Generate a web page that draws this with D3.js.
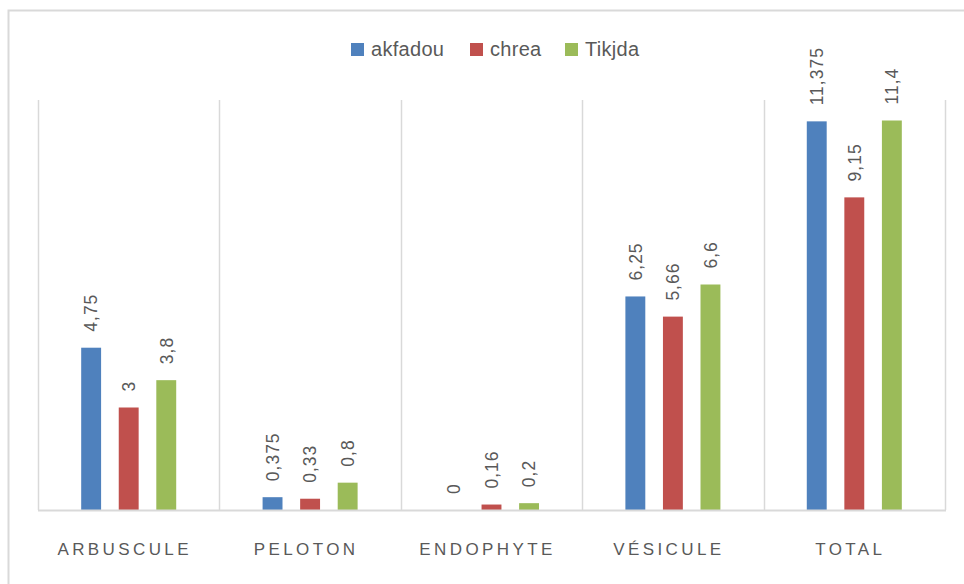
<!DOCTYPE html>
<html>
<head>
<meta charset="utf-8">
<script src="https://cdn.jsdelivr.net/npm/d3@7"></script>
<style>
  body { margin: 0; background: #fff; }
  text { font-family: "Liberation Sans", Arial, sans-serif; fill: #595959; }
</style>
</head>
<body>
<svg id="chart"></svg>
<script>
// Data
const categories = ["ARBUSCULE", "PELOTON", "ENDOPHYTE", "VÉSICULE", "TOTAL"];
const series = ["akfadou", "chrea", "Tikjda"];
const akfadou = [4.75, 0.375, 0, 6.25, 11.375];
const chrea = [3, 0.33, 0.16, 5.66, 9.15];
const tikjda = [3.8, 0.8, 0.2, 6.6, 11.4];
const values = [akfadou, chrea, tikjda];
const colors = ["#4f81bd", "#c0504d", "#9bbb59"];

const width = 964;
const height = 584;
const plot = { left: 38, right: 945, top: 100, bottom: 510 };

const svg = d3.select("#chart").attr("width", width).attr("height", height);

// outer frame (runs off the right and bottom edges)
svg.append("rect")
  .attr("x", 8.5).attr("y", 10.5)
  .attr("width", 1000).attr("height", 1000)
  .attr("fill", "none").attr("stroke", "#d9d9d9").attr("stroke-width", 2);

// scales
const x0 = d3.scaleBand().domain(categories).range([plot.left, plot.right]);
const x1 = d3.scaleBand().domain(series).range([0, x0.bandwidth()])
  .paddingInner(0.47).paddingOuter(1.15);
const y = d3.scaleLinear().domain([0, 12]).range([plot.bottom, plot.top]);

// vertical separators between categories
const seps = categories.map(c => x0(c)).concat([plot.right]);
svg.append("g").selectAll("line").data(seps).join("line")
  .attr("x1", d => Math.round(d) + 0.5).attr("x2", d => Math.round(d) + 0.5)
  .attr("y1", y(12)).attr("y2", plot.bottom)
  .attr("stroke", "#d9d9d9").attr("stroke-width", 1.5);

// bars
const groups = svg.append("g").selectAll("g").data(categories).join("g")
  .attr("transform", c => `translate(${x0(c)},0)`);

const rows = (c, i) => series.map((s, k) => ({ s, k, v: values[k][i] }));

groups.selectAll("rect").data(rows).join("rect")
  .attr("x", d => x1(d.s))
  .attr("width", x1.bandwidth())
  .attr("y", d => y(d.v))
  .attr("height", d => y(0) - y(d.v))
  .attr("fill", d => colors[d.k]);

// value labels, rotated
groups.selectAll("text").data(rows).join("text")
  .attr("transform", d => `translate(${x1(d.s) + x1.bandwidth() / 2},${y(d.v) - 16}) rotate(-90)`)
  .attr("dy", "0.36em")
  .attr("font-size", 17.5)
  .attr("letter-spacing", 1)
  .text(d => String(d.v).replace(".", ","));

// baseline
svg.append("line")
  .attr("x1", plot.left).attr("x2", plot.right + 1)
  .attr("y1", plot.bottom + 0.5).attr("y2", plot.bottom + 0.5)
  .attr("stroke", "#d9d9d9").attr("stroke-width", 2);

// category axis labels
const xAxis = d3.axisBottom(x0).tickSize(0).tickPadding(0);
const ax = svg.append("g").attr("transform", `translate(0,${plot.bottom})`).call(xAxis);
ax.select(".domain").remove();
ax.selectAll("text")
  .attr("y", 45)
  .attr("dy", 0)
  .attr("dx", -4)
  .attr("font-size", 17)
  .attr("letter-spacing", 3.4)
  .attr("fill", "#595959")
  .style("font-family", "Liberation Sans, Arial, sans-serif");

// legend
const legendX = [351, 470, 565];
const legend = svg.append("g").selectAll("g").data(series).join("g")
  .attr("transform", (d, i) => `translate(${legendX[i]},43)`);
legend.append("rect").attr("width", 13).attr("height", 13)
  .attr("fill", (d, i) => colors[i]);
legend.append("text").attr("x", 20).attr("y", 13)
  .attr("font-size", 20).attr("letter-spacing", 0.3).text(d => d);
</script>
</body>
</html>
